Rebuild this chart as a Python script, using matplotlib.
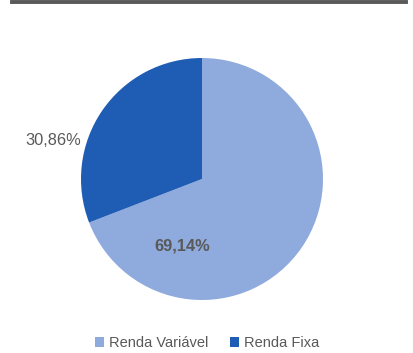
import matplotlib
matplotlib.use("Agg")
import matplotlib.pyplot as plt
from matplotlib.patches import Patch

plt.rcParams["font.family"] = ["Liberation Sans", "DejaVu Sans"]

labels = ["Renda Variável", "Renda Fixa"]
shares = [69.14, 30.86]
colors = ["#8FAADC", "#1F5DB5"]
textColor = "#595959"


def fmt(v):
    return f"{v:.2f}%".replace(".", ",")


fig = plt.figure(figsize=(4.13, 3.53), dpi=100)

# dark rule across the top
fig.add_artist(plt.Line2D([12 / 413, 406 / 413], [1 - 1.5 / 353, 1 - 1.5 / 353], color="#595959", lw=2.8))

ax = fig.add_axes([(202 - 121) / 413, 1 - (179 + 121) / 353, 242 / 413, 242 / 353])
ax.pie(shares, colors=colors, startangle=90, counterclock=False, radius=1, wedgeprops={"linewidth": 0})
ax.set_xlim(-1, 1)
ax.set_ylim(-1, 1)
ax.set_aspect("equal")
ax.axis("off")

ax.text(-1.23, 0.32, fmt(shares[1]), ha="center", va="center", fontsize=11.8, color=textColor)
ax.text(-0.16, -0.555, fmt(shares[0]), ha="center", va="center", fontsize=11.8, color=textColor,
        fontweight="bold")

handles = [Patch(facecolor=c, edgecolor="none") for c in colors]
fig.legend(handles, labels, loc="center", bbox_to_anchor=(207 / 413, 1 - 343 / 353), ncol=2, frameon=False,
           fontsize=10.5, labelcolor=textColor, handlelength=0.65, handleheight=0.65, handletextpad=0.3,
           columnspacing=1.5)

fig.savefig("out.png", dpi=100)
